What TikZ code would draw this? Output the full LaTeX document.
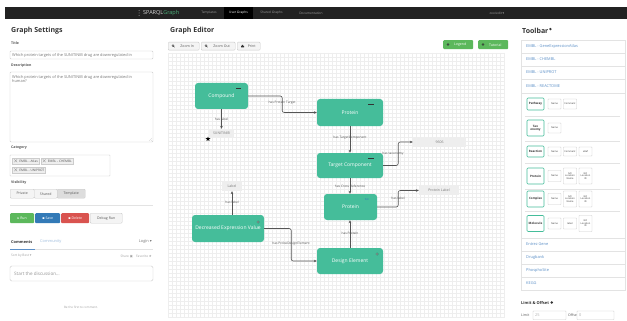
\documentclass[tikz,border=0pt]{standalone}
\usepackage{fontspec}
\setmainfont{Open Sans}
\newfontfamily\symfont{DejaVu Sans}
\usetikzlibrary{positioning,shapes.geometric,arrows.meta}

\newcommand\fsz[1]{\fontsize{#1}{#1}\selectfont}

\definecolor{topbar}{HTML}{222222}
\definecolor{barText}{HTML}{9D9D9D}
\definecolor{barLight}{HTML}{D8D8D8}
\definecolor{logoGreen}{HTML}{4CAF7A}
\definecolor{headText}{HTML}{333333}
\definecolor{labelText}{HTML}{555555}
\definecolor{inBorder}{HTML}{CCCCCC}
\definecolor{inText}{HTML}{777777}
\definecolor{tagFill}{HTML}{EEEEEE}
\definecolor{btnFill}{HTML}{F4F4F4}
\definecolor{activeFill}{HTML}{DDDDDD}
\definecolor{runGreen}{HTML}{5CB85C}
\definecolor{saveBlue}{HTML}{337AB7}
\definecolor{deleteRed}{HTML}{D9534F}
\definecolor{linkBlue}{HTML}{5B8FC7}
\definecolor{nodeTeal}{HTML}{45BD9A}
\definecolor{gridCol}{HTML}{EEEEEE}
\definecolor{edgeCol}{HTML}{555555}
\definecolor{litFill}{HTML}{EEEEEE}
\definecolor{rowBorder}{HTML}{E3E3E3}

\begin{document}
\begin{tikzpicture}[x=1pt,y=-1pt]
	\tikzset{
		cls/.style={rectangle,rounded corners=3pt,fill=nodeTeal,text=white,font=\fsz{5},inner sep=0pt},
		lit/.style={rectangle,fill=litFill,text=inText,font=\fsz{3.5},inner sep=0pt},
		elbl/.style={font=\fsz{3.2},text=labelText,inner sep=0.5pt},
		edge/.style={draw=edgeCol,line width=0.6pt,-{Stealth[length=3pt,width=2.6pt]},rounded corners=2pt},
		navtxt/.style={font=\fsz{3.2},text=barText,inner sep=0pt},
		head/.style={font=\fsz{7}\bfseries,text=headText,anchor=west,inner sep=0pt},
		flabel/.style={font=\fsz{3.5}\bfseries,text=labelText,anchor=west,inner sep=0pt},
		intxt/.style={font=\fsz{3.9},text=inText,anchor=west,inner sep=0pt},
		inbox/.style={draw=inBorder,fill=white,rounded corners=1pt},
		tag/.style={draw=inBorder,fill=tagFill,font=\fsz{3.2},text=labelText,inner sep=1pt,anchor=west,minimum height=6pt},
		btn/.style={draw=inBorder,fill=btnFill,rounded corners=1pt,font=\fsz{3.5},text=labelText,inner sep=0pt},
		cbtn/.style={rounded corners=1pt,font=\fsz{3.5},text=white,inner sep=0pt},
		row/.style={draw=rowBorder,fill=white,minimum width=104pt,anchor=north west,inner sep=0pt},
		rowtxt/.style={font=\fsz{3.9},text=linkBlue,anchor=west,inner sep=0pt},
		tclass/.style={draw=nodeTeal,line width=0.6pt,fill=white,rounded corners=1pt,font=\fsz{3}\bfseries,text=headText,minimum width=17pt,inner sep=0pt,align=center},
		tattr/.style={draw=inBorder,fill=white,rounded corners=0.5pt,font=\fsz{2.4},text=headText,minimum width=13pt,inner sep=0pt,align=center}
	}
	\useasboundingbox[fill=white] (0,0) rectangle (627,321);

	%% top navigation bar
	\fill[topbar] (5,7) rectangle (627,19);
	\fill[black] (224,7) rectangle (253,19);
	\foreach \yy in {10.5,13,15.5} \fill[barText] (139,\yy) circle (0.5);
	\node[anchor=west,font=\fsz{5.5},inner sep=0pt] (logo) at (143,13) {\textcolor{barLight}{SPARQL}\textcolor{logoGreen}{Graph}};
	\node[navtxt] (navTempl) at (209,13) {Templates};
	\node[navtxt,text=white] (navUser) at (238.5,13) {User Graphs};
	\node[navtxt] (navShared) at (271.5,13) {Shared Graphs};
	\node[navtxt] (navDoc) at (311,13) {Documentation};
	\node[navtxt] (navAcct) at (497,13) {zoo/edit {\symfont▾}};

	%% graph settings
	\node[head] (gsHead) at (11,31) {Graph Settings};
	\node[flabel] (lTitle) at (11,43) {Title};
	\draw[inbox] (10,51) rectangle (153,59);
	\node[intxt] (titleTxt) at (12,55) {Which protein targets of the SUNITINIB drug are downregulated in};
	\node[flabel] (lDesc) at (11,66) {Description};
	\draw[inbox] (10,72) rectangle (153,142);
	\node[intxt,anchor=north west,align=left,font=\fsz{3.9}\linespread{1.2}] (descTxt) at (12,75)
		{Which protein targets of the SUNITINIB drug are downregulated in\\human?};
	\draw[inBorder,line width=0.3pt] (149,141) -- (152,138) (151,141) -- (152,140);
	\node[flabel] (lCat) at (11,148) {Category};
	\draw[inbox,rounded corners=0.5pt] (10,155) rectangle (110,176);
	\node[tag] (tagAtlas) at (12,161) {$\times$ EMBL - Atlas};
	\node[tag,right=1.5pt of tagAtlas] (tagChembl) {$\times$ EMBL - CHEMBL};
	\node[tag] (tagUniprot) at (12,170) {$\times$ EMBL - UNIPROT};
	\node[flabel] (lVis) at (11,183) {Visibility};
	\node[btn,minimum width=24pt,minimum height=9pt,anchor=north west] (bPrivate) at (10,189) {Private};
	\node[btn,minimum width=23pt,minimum height=9pt,anchor=north west] (bShared) at (34,189) {Shared};
	\node[btn,fill=activeFill,minimum width=28pt,minimum height=9pt,anchor=north west] (bTemplate) at (57,189) {Template};
	\draw[rowBorder] (10,205) -- (153,205);
	\node[cbtn,fill=runGreen,minimum width=24pt,minimum height=10pt,anchor=north west] (bRun) at (10,213) {{\symfont▸} Run};
	\node[cbtn,fill=saveBlue,minimum width=25pt,minimum height=10pt,anchor=north west] (bSave) at (35,213) {{\symfont▪} Save};
	\node[cbtn,fill=deleteRed,minimum width=28pt,minimum height=10pt,anchor=north west] (bDelete) at (61,213) {{\symfont▪} Delete};
	\node[btn,minimum width=32pt,minimum height=10pt,anchor=north west] (bDebug) at (90,213) {Debug Run};

	%% comments
	\node[flabel,font=\fsz{3.9}\bfseries,text=headText] (cTab) at (11,242) {Comments};
	\node[intxt,text=linkBlue!60] (cCommunity) at (40,242) {Community};
	\node[intxt,anchor=east] (cLogin) at (152,242) {Login {\symfont▾}};
	\draw[rowBorder,line width=0.5pt] (10,249) -- (153,249);
	\draw[linkBlue,line width=0.8pt] (10,249) -- (35,249);
	\node[intxt,font=\fsz{3.2},text=inText!70] (cSort) at (11,256) {Sort by Best {\symfont▾}};
	\node[intxt,font=\fsz{3.2},text=inText!70,anchor=east] (cShare) at (152,256) {Share {\symfont▣}\quad Favorite {\symfont★}};
	\draw[inbox,rounded corners=1.5pt] (10,266) rectangle (153,281);
	\node[intxt,font=\fsz{4.6},text=inText!80] (cStart) at (14,273.5) {Start the discussion\ldots};
	\node[intxt,font=\fsz{3},anchor=center,text=inText!70] (cFirst) at (81,307) {Be the first to comment.};

	%% graph editor
	\node[head] (geHead) at (170,31) {Graph Editor};
	\node[btn,minimum width=31pt,minimum height=8pt,anchor=north west] (bZoomIn) at (168,42) {\hspace{7pt}Zoom In};
	\node[btn,minimum width=34pt,minimum height=8pt,anchor=north west] (bZoomOut) at (201,42) {\hspace{7pt}Zoom Out};
	\node[btn,minimum width=23pt,minimum height=8pt,anchor=north west] (bPrint) at (237,42) {\hspace{6pt}Print};
	\foreach \xx in {173,206} {
		\draw[headText,line width=0.45pt] (\xx,45.6) circle (1) (\xx+0.7,46.3) -- (\xx+1.6,47.2);
	}
	\fill[headText] (241,46) rectangle (244,47.5) (241.8,45) rectangle (243.2,46);
	\node[cbtn,fill=runGreen,minimum width=30pt,minimum height=9pt,anchor=north west] (bLegend) at (443,40) {\hspace{4pt}Legend};
	\node[cbtn,fill=runGreen,minimum width=30pt,minimum height=9pt,anchor=north west] (bTutorial) at (478,40) {\hspace{4pt}Tutorial};
	\fill[headText!80!runGreen] (448,44.5) circle (1.3) (483,44.5) circle (1.3);

	%% canvas grid
	\foreach \gx in {168,172,...,504} \draw[gridCol,line width=0.3pt] (\gx,53) -- (\gx,318);
	\foreach \gy in {53,57,...,317} \draw[gridCol,line width=0.3pt] (168,\gy) -- (505,\gy);

	\node[cls,minimum width=53pt,minimum height=26pt] (comp) at (221.5,96) {Compound};
	\node[cls,minimum width=66pt,minimum height=27pt] (prot) at (350,112.5) {Protein};
	\node[cls,minimum width=66pt,minimum height=25pt] (tcomp) at (350,165.5) {Target Component};
	\node[cls,minimum width=53pt,minimum height=26pt] (prot2) at (350.5,207) {Protein};
	\node[cls,minimum width=66pt,minimum height=26pt] (desel) at (350,261) {Design Element};
	\node[cls,minimum width=72pt,minimum height=27pt] (dev) at (228,228.5) {Decreased Expression Value};

	\node[lit,minimum width=25pt,minimum height=8pt] (sun) at (221.5,133) {SUNITINIB};
	\node[star,star points=5,star point ratio=2.3,fill=black,inner sep=0pt,minimum size=5pt] (sunStar) at (208,139) {};
	\node[lit,minimum width=53pt,minimum height=10pt] (tax) at (439.5,142) {9606};
	\node[lit,minimum width=40pt,minimum height=9pt] (plbl) at (439,190.5) {Protein Label};
	\node[lit,minimum width=20pt,minimum height=10pt] (lbl) at (232,186) {Label};

	%% small marks on the class nodes
	\draw[headText,line width=0.5pt] (236,88) -- (241,88);
	\draw[headText,line width=0.5pt] (368,104.5) -- (374,104.5);
	\draw[headText,line width=0.5pt] (368,158) -- (374,158);
	\node[font=\fsz{2.6},text=saveBlue,inner sep=0pt] (prot2Mark) at (367,200) {fish};
	\fill[headText!60!nodeTeal] (377,254) circle (1.5) (258,222) circle (1.5);
	\fill[white] (377,254) circle (0.6) (258,222) circle (0.6);

	%% connectors
	\path[edge]
		(comp.east) -- ++(34,0) |- (prot.west);
	\path[edge] (comp.south -| sun.north) -- (sun.north);
	\path[edge] (prot.south) -- (tcomp.north);
	\path[edge] (tcomp.east) -- ++(15,0) |- (tax.west);
	\path[edge] (tcomp.south) -- (prot2.north -| tcomp.south);
	\path[edge] (prot2.east) -- ++(21,0) |- (plbl.west);
	\path[edge] (desel.north) -- (prot2.south -| desel.north);
	\path[edge] (dev.north -| lbl.south) -- (lbl.south);
	\path[edge] (dev.east) -- ++(27,0) |- (desel.west);

	\node[elbl] (eTarget) at (282,103) {has Protein Target};
	\node[elbl] (eLabel1) at (221.5,119) {has label};
	\node[elbl] (eTComp) at (350,138) {has TargetComponent};
	\node[elbl] (eTax) at (393,154) {has taxonomy};
	\node[elbl] (eXref) at (350,186) {has Cross Reference};
	\node[elbl] (eLabel2) at (398,198) {has label};
	\node[elbl] (eProtein) at (350,233) {has Protein};
	\node[elbl] (eLabel3) at (232,202) {has label};
	\node[elbl] (eProbe) at (291,244) {has ProbeDesignElement};

	%% toolbar
	\node[head] (tbHead) at (522,31) {Toolbar};
	\fill[headText] (tbHead.north east) ++(1.8,1) circle (1.3);
	\node[row,minimum height=13pt] (rAtlas) at (521,40) {};
	\node[rowtxt] at (526,46.5) {EMBL - GeneExpressionAtlas};
	\node[row,minimum height=13pt] (rChembl) at (521,53) {};
	\node[rowtxt] at (526,59.5) {EMBL - CHEMBL};
	\node[row,minimum height=13pt] (rUniprot) at (521,66) {};
	\node[rowtxt] at (526,72.5) {EMBL - UNIPROT};
	\node[row,minimum height=14pt] (rReactome) at (521,79) {};
	\node[rowtxt] at (526,86) {EMBL - REACTOME};
	\node[row,minimum height=144.5pt] (rReactBody) at (521,93) {};

	\node[tclass,minimum height=12pt] (tPathway) at (535.5,104) {Pathway};
	\node[tattr,minimum height=10pt] (aPathName) at (554.5,104) {Name};
	\node[tattr,minimum height=10pt] (aPathComm) at (570,104) {Comment};
	\draw[rowBorder] (525,116) -- (620,116);
	\node[tclass,minimum height=16pt] (tTaxon) at (535.5,128) {Tax\\onomy};
	\node[tattr,minimum height=10pt] (aTaxName) at (554.5,128) {Name};
	\draw[rowBorder] (525,141) -- (620,141);
	\node[tclass,minimum height=11pt] (tReaction) at (535.5,151.5) {Reaction};
	\node[tattr,minimum height=9pt] (aReacName) at (554.5,151.5) {Name};
	\node[tattr,minimum height=9pt] (aReacComm) at (570,151.5) {Comment};
	\node[tattr,minimum height=9pt] (aReacRef) at (585.5,151.5) {eRef};
	\draw[rowBorder] (525,163) -- (620,163);
	\node[tclass,minimum height=16pt] (tProtein) at (535.5,176) {Protein};
	\node[tattr,minimum height=11pt] (aProtName) at (554.5,176) {Name};
	\node[tattr,minimum height=16pt] (aProtGoN) at (570,176) {GO\\Location\\Name};
	\node[tattr,minimum height=16pt] (aProtGoI) at (585.5,176) {GO\\Location\\ID};
	\draw[rowBorder] (525,189) -- (620,189);
	\node[tclass,minimum height=16pt] (tComplex) at (535.5,199) {Complex};
	\node[tattr,minimum height=11pt] (aCompName) at (554.5,199) {Name};
	\node[tattr,minimum height=16pt] (aCompGoN) at (570,199) {GO\\Location\\Name};
	\node[tattr,minimum height=16pt] (aCompGoI) at (585.5,199) {GO\\Location\\ID};
	\draw[rowBorder] (525,211) -- (620,211);
	\node[tclass,minimum height=16pt] (tMolecule) at (535.5,223.5) {Molecule};
	\node[tattr,minimum height=11pt] (aMolName) at (554.5,223.5) {Name};
	\node[tattr,minimum height=11pt] (aMolLabel) at (570,223.5) {label};
	\node[tattr,minimum height=16pt] (aMolGoI) at (585.5,223.5) {GO\\Location\\ID};

	\node[row,minimum height=13pt] (rEntrez) at (521,237.5) {};
	\node[rowtxt] at (526,244) {Entrez Gene};
	\node[row,minimum height=13pt] (rDrugbank) at (521,250.5) {};
	\node[rowtxt] at (526,257) {Drugbank};
	\node[row,minimum height=13pt] (rPhospho) at (521,263.5) {};
	\node[rowtxt] at (526,270) {PhosphoSite};
	\node[row,minimum height=13pt] (rKegg) at (521,276.5) {};
	\node[rowtxt] at (526,283) {KEGG};

	\node[flabel,font=\fsz{4}\bfseries,text=headText] (lLimit) at (521,303) {Limit \& Offset};
	\fill[headText] (lLimit.east) ++(2.5,-0.5) circle (1.3);
	\node[flabel,font=\fsz{3.5}] (lLim) at (521,315) {Limit};
	\draw[inbox,rounded corners=0.5pt] (533,311) rectangle (566,319.5);
	\node[intxt,text=inText!60] (vLimit) at (535,315.2) {25};
	\node[flabel,font=\fsz{3.5}] (lOff) at (568,315) {Offset};
	\draw[inbox,rounded corners=0.5pt] (577,311) rectangle (614,319.5);
	\node[intxt,text=inText!60] (vOffset) at (579,315.2) {0};
\end{tikzpicture}
\end{document}
